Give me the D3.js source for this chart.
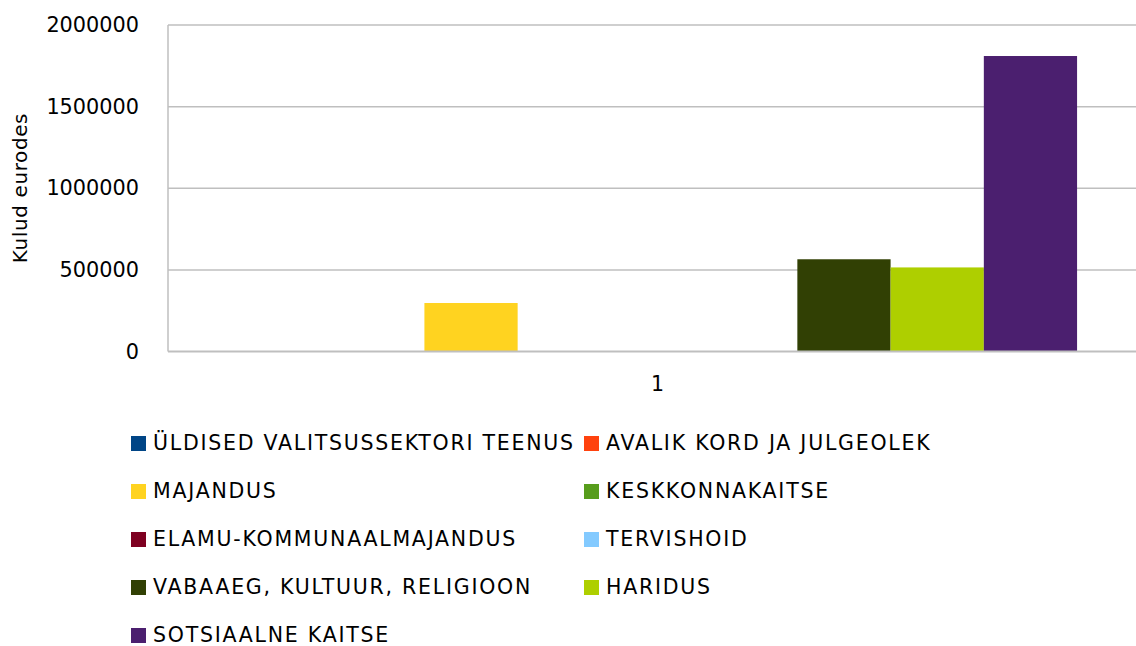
<!DOCTYPE html>
<html lang="et">
<head>
<meta charset="UTF-8">
<script src="https://d3js.org/d3.v7.min.js"></script>
<title>Kulud eurodes</title>
<style>
body { margin: 0; background: #fff; }
text { font-family: "DejaVu Sans", sans-serif; fill: #000; }
</style>
</head>
<body>
<script>

// data
var categories = ["1"];
var seriesNames = [
  "ÜLDISED VALITSUSSEKTORI TEENUS",
  "AVALIK KORD JA JULGEOLEK",
  "MAJANDUS",
  "KESKKONNAKAITSE",
  "ELAMU-KOMMUNAALMAJANDUS",
  "TERVISHOID",
  "VABAAEG, KULTUUR, RELIGIOON",
  "HARIDUS",
  "SOTSIAALNE KAITSE"
];
var seriesValues = [0, 0, 297000, 0, 0, 0, 565000, 515000, 1810000];
var yTicks = [0, 500000, 1000000, 1500000, 2000000];
var colors = ["#004586", "#ff420e", "#ffd320", "#579d1c", "#7e0021",
              "#83caff", "#314004", "#aecf00", "#4b1f6f"];

var width = 1136,
    height = 646;

var plot = { left: 168, right: 1147, top: 25, bottom: 351.5 };

var svg = d3.select("body").append("svg")
    .attr("width", width)
    .attr("height", height);

var y = d3.scaleLinear()
    .domain([0, 2000000])
    .range([plot.bottom, plot.top]);

// excel style gap: 150% of one bar, split on both sides
var x0 = d3.scaleBand()
    .domain(categories)
    .range([plot.left, plot.right])
    .paddingInner(0)
    .paddingOuter(0.75 / seriesNames.length);

var x1 = d3.scaleBand()
    .domain(seriesNames)
    .range([0, x0.bandwidth()]);

// gridlines
svg.append("g")
  .selectAll("line")
    .data(yTicks.slice(1))
  .enter().append("line")
    .attr("x1", plot.left)
    .attr("x2", plot.right)
    .attr("y1", function(d) { return y(d); })
    .attr("y2", function(d) { return y(d); })
    .attr("stroke", "#bfbfbf")
    .attr("stroke-width", 1.5);

// left border of plot area
svg.append("line")
    .attr("x1", plot.left).attr("x2", plot.left)
    .attr("y1", plot.top).attr("y2", plot.bottom)
    .attr("stroke", "#bfbfbf")
    .attr("stroke-width", 1.5);

// bars
var groups = svg.append("g")
  .selectAll("g")
    .data(categories)
  .enter().append("g")
    .attr("transform", function(d) { return "translate(" + x0(d) + ",0)"; });

groups.selectAll("rect")
    .data(seriesNames.map(function(name, i) { return { name: name, value: seriesValues[i], color: colors[i] }; }))
  .enter().append("rect")
    .attr("x", function(d) { return x1(d.name); })
    .attr("width", x1.bandwidth())
    .attr("y", function(d) { return y(d.value); })
    .attr("height", function(d) { return y(0) - y(d.value); })
    .attr("fill", function(d) { return d.color; });

// baseline
svg.append("line")
    .attr("x1", plot.left).attr("x2", plot.right)
    .attr("y1", y(0)).attr("y2", y(0))
    .attr("stroke", "#bfbfbf")
    .attr("stroke-width", 2);

// y axis labels
var yAxis = d3.axisLeft(y)
    .tickValues(yTicks)
    .tickFormat(d3.format("d"))
    .tickSize(0)
    .tickPadding(29);

svg.append("g")
    .attr("transform", "translate(" + plot.left + ",0)")
    .call(yAxis)
    .call(function(g) { g.select(".domain").remove(); })
    .selectAll("text")
    .style("font-family", "DejaVu Sans")
    .style("font-size", "20.8px")
    .attr("fill", "#000");

// x axis label
var xAxis = d3.axisBottom(x0)
    .tickSize(0)
    .tickPadding(25);

svg.append("g")
    .attr("transform", "translate(0," + y(0) + ")")
    .call(xAxis)
    .call(function(g) { g.select(".domain").remove(); })
    .selectAll("text")
    .style("font-family", "DejaVu Sans")
    .style("font-size", "20.5px")
    .attr("fill", "#000");

// axis title
svg.append("text")
    .attr("transform", "translate(27,188) rotate(-90)")
    .attr("text-anchor", "middle")
    .style("font-size", "20px")
    .style("letter-spacing", "0.6px")
    .text("Kulud eurodes");

// legend, two columns
var legend = svg.append("g")
  .selectAll("g")
    .data(seriesNames)
  .enter().append("g")
    .attr("transform", function(d, i) {
      var col = i % 2, row = Math.floor(i / 2);
      return "translate(" + (col ? 584 : 131) + "," + (443 + row * 48) + ")";
    });

legend.append("rect")
    .attr("x", 0)
    .attr("y", -7)
    .attr("width", 15)
    .attr("height", 15)
    .attr("fill", function(d, i) { return colors[i]; });

legend.append("text")
    .attr("x", 22)
    .attr("y", 6.5)
    .style("font-size", "20.5px")
    .style("letter-spacing", "1.75px")
    .text(function(d) { return d; });

</script>
</body>
</html>
